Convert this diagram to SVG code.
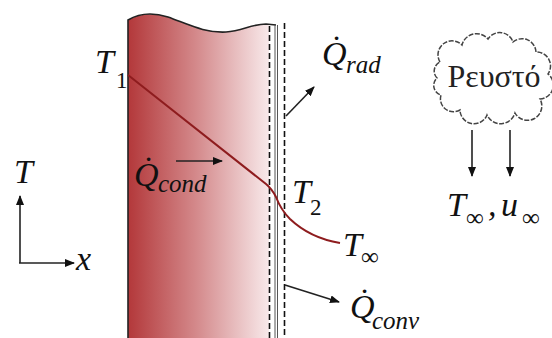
<svg xmlns="http://www.w3.org/2000/svg" width="552" height="338" viewBox="0 0 552 338">
<style>
text{font-family:"Liberation Serif","Times New Roman","DejaVu Serif","Noto Serif",Times,serif;}
.lbl{font-style:italic;fill:#111;}
.big{font-size:34px;}
.sub{font-size:25px;}
.num{font-style:normal;font-size:23px;}
.inf{font-style:normal;font-size:25px;}
.arr{stroke:#222;stroke-width:1.6;fill:none;marker-end:url(#ah);}
.dash{stroke:#111;stroke-width:1.6;stroke-dasharray:6 3;fill:none;}
</style>
<defs>
<linearGradient id="wallg" x1="0" y1="0" x2="1" y2="0">
<stop offset="0" stop-color="#b3383a"/>
<stop offset="0.5" stop-color="#d58c8e"/>
<stop offset="1" stop-color="#f8e9ea"/>
</linearGradient>
<marker id="ah" markerWidth="10" markerHeight="8" refX="9" refY="4" orient="auto" markerUnits="userSpaceOnUse">
<path d="M0,0 L10,4 L0,8 Z" fill="#111"/>
</marker>
</defs>
<g id="wall">
<path d="M128,20 C138,14 152,12 168,17 C190,25 205,33 226,32 C242,31 252,24 266,24 L269,25 L269,338 L128,338 Z" fill="url(#wallg)"/>
<path d="M128,338 L128,20 C138,14 152,12 168,17 C190,25 205,33 226,32 C242,31 252,24 266,24 L276,25" fill="none" stroke="#222" stroke-width="1.6"/>
<line x1="269.5" y1="26" x2="269.5" y2="338" class="dash"/>
<line x1="275" y1="25" x2="275" y2="338" stroke="#555" stroke-width="1"/>
<line x1="277.5" y1="25" x2="277.5" y2="338" stroke="#555" stroke-width="1"/>
<line x1="284.5" y1="23" x2="284.5" y2="338" class="dash"/>
</g>
<g id="profile">
<path d="M128,75 L266,184 Q272,189 276,197 Q281,210 290,219 Q310,238 340,243" fill="none" stroke="#8e1c1e" stroke-width="2"/>
</g>
<g id="cloud">
<path d="M440,62 A14,14 0 0 1 462,45 A15,15 0 0 1 488,39 A14,14 0 0 1 513,42 A14,14 0 0 1 536,52 A14,14 0 0 1 548,74 A14,14 0 0 1 540,99 A14,14 0 0 1 515,113 A15,15 0 0 1 487,115 A14,14 0 0 1 460,110 A13,13 0 0 1 441,95 A10,10 0 0 1 437,78 A10,10 0 0 1 440,62 Z" fill="#fff" stroke="#444" stroke-width="1.5" stroke-dasharray="5 1.5"/>
<text x="494" y="87" text-anchor="middle" font-size="32" fill="#222">Ρευστό</text>
</g>
<g id="connectors">
<line x1="176" y1="161" x2="222" y2="161" class="arr"/>
<line x1="286" y1="116" x2="314" y2="87" class="arr"/>
<line x1="285" y1="285" x2="339" y2="302" class="arr"/>
<line x1="472" y1="130" x2="472" y2="176" class="arr"/>
<line x1="510" y1="130" x2="510" y2="176" class="arr"/>
<line x1="20" y1="263" x2="20" y2="196" class="arr"/>
<line x1="19" y1="263" x2="74" y2="263" class="arr"/>
</g>
<g id="labels">
<text class="lbl big" x="95" y="73">T</text><text class="lbl num" x="116" y="88">1</text>
<text class="lbl big" x="292" y="203">T</text><text class="lbl num" x="310" y="215">2</text>
<text class="lbl big" x="343" y="256">T</text><text class="lbl inf" x="361" y="265">∞</text>
<text class="lbl big" x="14" y="183">T</text>
<text class="lbl big" x="76" y="270">x</text>
<text class="lbl big" x="134" y="186">Q̇</text><text class="lbl sub" x="158" y="192">cond</text>
<text class="lbl big" x="322" y="65">Q̇</text><text class="lbl sub" x="346" y="73">rad</text>
<text class="lbl big" x="350" y="318">Q̇</text><text class="lbl sub" x="372" y="329">conv</text>
<text class="lbl big" x="447" y="216">T</text><text class="lbl inf" x="466" y="226">∞</text>
<text class="lbl big" x="488" y="216">,</text>
<text class="lbl big" x="501" y="216">u</text><text class="lbl inf" x="522" y="226">∞</text>
</g>
</svg>
